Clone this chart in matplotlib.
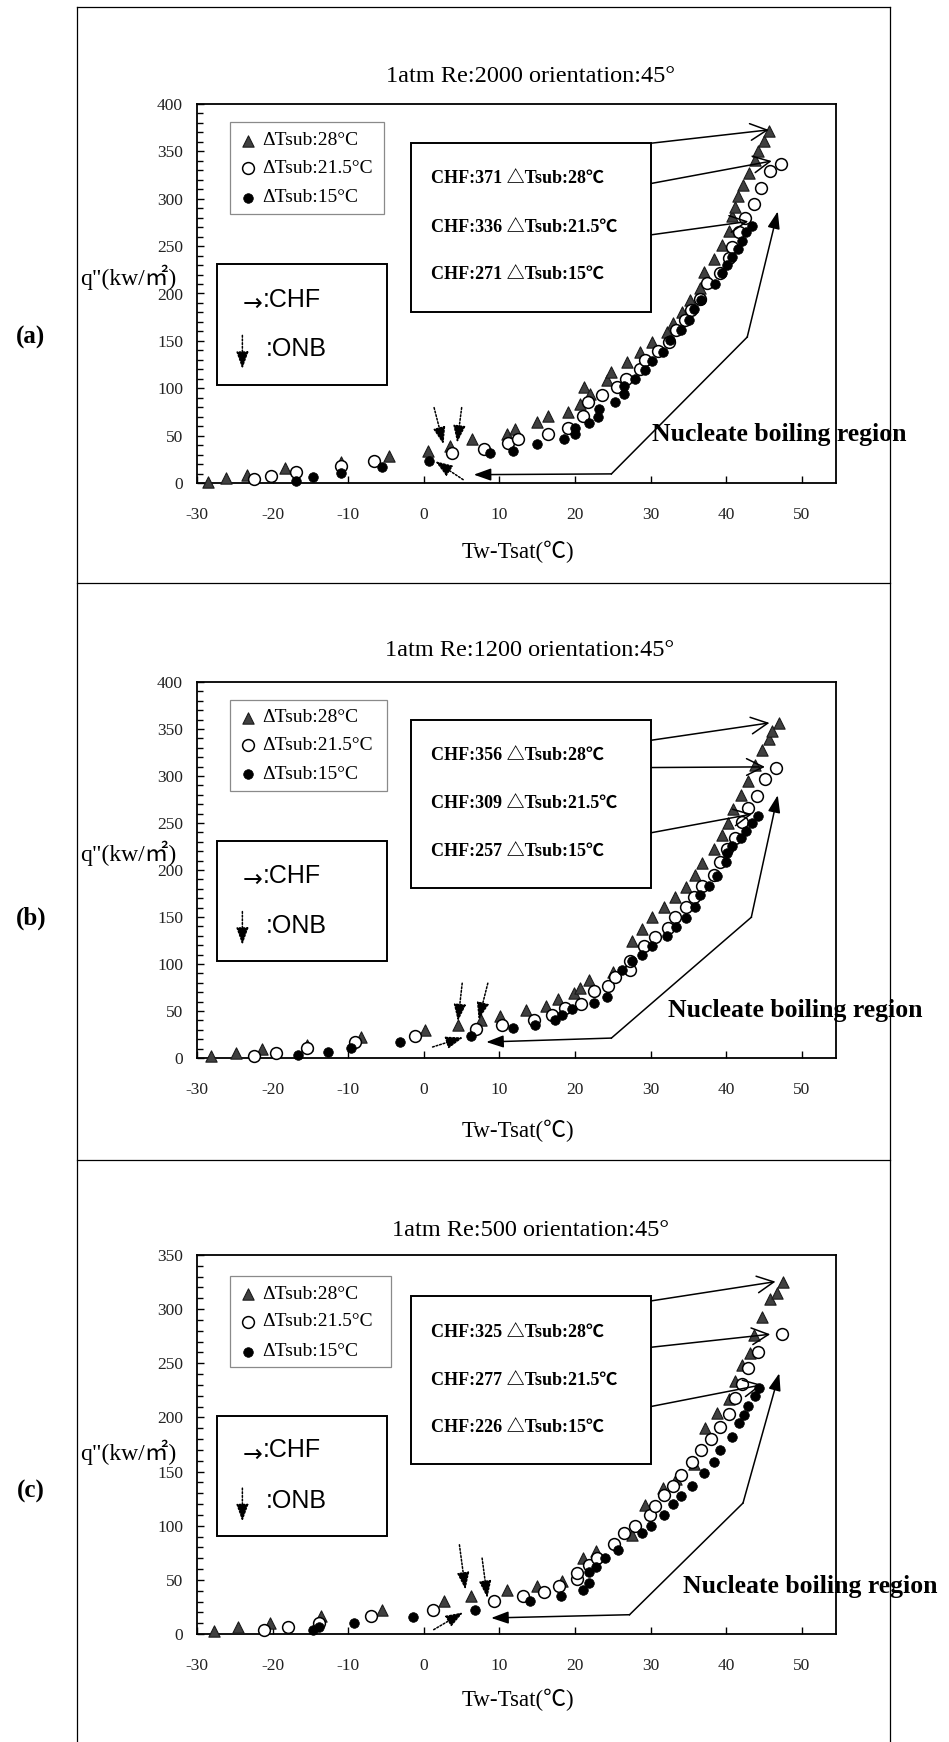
#!/usr/bin/env python3
"""Boiling curves at 1 atm, 45 deg orientation, three Re values (a)-(c).

Each panel: q'' vs Tw-Tsat for three subcooling levels, with CHF callouts,
ONB markers and the nucleate boiling region pointer.
"""

import matplotlib

matplotlib.use("Agg")
import matplotlib.pyplot as plt  # noqa: E402
from matplotlib import font_manager  # noqa: E402
from matplotlib.lines import Line2D  # noqa: E402
from matplotlib.patches import ArrowStyle, Rectangle  # noqa: E402
from matplotlib.ticker import MultipleLocator  # noqa: E402

W, H, DPI = 949, 1742, 100
plt.rcParams["axes.unicode_minus"] = False

# ---------------------------------------------------------------- data
RE_VALUES = [2000, 1200, 500]
PANEL_TAGS = ["(a)", "(b)", "(c)"]
SUBCOOLING = ["28", "21.5", "15"]
Y_MAX = [400, 400, 350]
CHF_A = [371, 336, 271]
CHF_B = [356, 309, 257]
CHF_C = [325, 277, 226]

# Re 2000
A28_X = [-28.6, -26.1, -23.4, -18.3, -11.0, -4.6, 0.5, 3.5, 6.3, 11.0, 12.0, 14.9, 16.4, 19.1,
         20.6, 21.2, 22.0, 24.2, 24.8, 26.9, 28.6, 30.2, 32.1, 33.0, 34.2, 35.2, 36.5, 37.1, 38.4,
         39.4, 40.3, 40.7, 41.2, 41.5, 42.2, 43.0, 43.8, 44.2, 45.0, 45.7]
A28_Y = [1.5, 5.3, 8.8, 15.9, 21.9, 28.3, 33.6, 38.9, 46.0, 51.3, 56.6, 64.4, 70.8, 75.0,
         83.2, 100.9, 93.5, 108.7, 117.5, 127.4, 138.1, 148.7, 159.3, 169.2, 180.5, 192.9, 205.3,
         223.0, 236.1, 251.3, 265.5, 281.4, 291.3, 302.7, 314.3, 327.4, 340.5, 350.4, 361.0, 371.0]
A21_X = [-22.5, -20.2, -16.9, -11.0, -6.6, 3.7, 7.9, 11.1, 12.4, 16.4, 19.1, 21.0, 21.7, 23.5,
         25.5, 26.7, 28.6, 29.2, 30.9, 32.4, 33.3, 34.5, 35.3, 36.5, 37.5, 39.2, 40.4, 40.7, 41.7,
         42.5, 43.6, 44.6, 45.8, 47.2]
A21_Y = [4.5, 7.5, 11.5, 17.7, 23.7, 31.9, 35.4, 42.0, 46.0, 52.0, 58.4, 70.8, 85.0, 93.1,
         101.6, 109.7, 120.4, 129.9, 139.1, 148.7, 161.1, 171.7, 182.3, 194.7, 210.6, 222.0, 237.2,
         249.6, 264.4, 279.6, 294.5, 311.5, 329.2, 337.0]
A15_X = [-16.9, -14.7, -11.0, -5.6, 0.7, 8.7, 11.8, 15.0, 18.5, 20.0, 20.0, 21.8, 23.0, 23.1,
         25.3, 26.5, 26.5, 27.9, 29.2, 30.2, 31.6, 32.6, 34.0, 35.0, 35.7, 36.7, 38.5, 39.4, 40.1,
         40.7, 41.5, 42.1, 42.6, 43.4]
A15_Y = [2.5, 6.0, 10.6, 16.6, 23.0, 31.9, 34.3, 41.4, 46.0, 52.0, 57.7, 63.7, 69.7, 77.9,
         86.0, 93.8, 102.7, 109.7, 119.3, 128.5, 138.1, 151.2, 161.8, 171.7, 184.1, 192.9, 209.6,
         222.0, 230.1, 238.9, 246.7, 255.6, 264.4, 271.0]

# Re 1200
B28_X = [-28.1, -24.9, -21.4, -15.4, -8.3, 0.1, 4.5, 7.6, 10.1, 13.5, 16.2, 17.7, 19.8, 20.6,
         21.9, 25.0, 27.5, 28.9, 30.2, 31.8, 33.2, 34.6, 35.8, 36.8, 38.4, 39.4, 40.2, 40.9, 41.9,
         42.8, 43.8, 44.7, 45.6, 46.0, 47.0]
B28_Y = [2.5, 5.3, 9.9, 13.4, 21.9, 29.5, 35.0, 40.0, 44.2, 51.3, 54.9, 62.7, 69.0, 75.0,
         83.2, 92.0, 125.0, 137.0, 149.7, 160.4, 171.0, 182.3, 194.7, 207.1, 222.3, 237.2, 249.6,
         264.8, 279.6, 294.9, 311.5, 327.4, 339.8, 347.6, 356.0]
B21_X = [-22.5, -19.5, -15.4, -9.1, -1.2, 6.9, 10.3, 14.5, 16.9, 18.7, 20.8, 22.5, 24.4, 25.3,
         27.2, 27.3, 29.1, 30.6, 32.3, 33.2, 34.6, 35.7, 36.8, 38.4, 39.2, 40.1, 41.1, 42.1, 42.9,
         44.0, 45.1, 46.5]
B21_Y = [2.5, 5.5, 10.6, 17.3, 23.0, 30.5, 35.0, 40.7, 46.0, 53.1, 57.7, 71.5, 76.8, 86.7,
         93.8, 102.7, 119.3, 129.2, 138.1, 149.7, 161.1, 171.7, 183.0, 194.7, 208.8, 221.9, 233.6,
         251.3, 266.2, 278.6, 296.3, 309.0]
B15_X = [-16.6, -12.7, -9.7, -3.2, 6.2, 11.8, 14.7, 17.3, 18.3, 19.6, 22.5, 24.2, 26.2, 27.5,
         28.9, 30.2, 32.1, 33.3, 34.6, 35.8, 36.5, 37.7, 38.7, 39.9, 40.1, 40.7, 42.0, 42.6, 43.4,
         44.2]
B15_Y = [3.5, 6.0, 10.6, 16.6, 23.0, 31.9, 35.4, 40.0, 46.0, 52.0, 58.4, 64.8, 93.8, 103.4,
         109.7, 119.3, 129.9, 139.8, 148.7, 161.1, 173.5, 183.0, 193.6, 208.8, 218.4, 225.5, 233.6,
         241.8, 250.3, 257.0]

# Re 500
C28_X = [-27.7, -24.6, -20.3, -13.6, -5.6, 2.7, 6.2, 11.0, 14.9, 18.3, 21.0, 22.8, 27.5, 29.2,
         31.6, 33.3, 35.7, 37.2, 38.8, 40.4, 41.2, 42.1, 43.1, 43.6, 44.7, 45.8, 46.7, 47.5]
C28_Y = [3.1, 6.2, 10.2, 16.3, 21.8, 30.1, 35.0, 40.9, 44.6, 48.6, 70.1, 76.3, 91.7, 119.3,
         134.7, 143.0, 157.2, 190.1, 203.9, 216.9, 233.2, 248.5, 259.3, 276.2, 292.5, 309.1, 315.3,
         325.0]
C21_X = [-21.2, -18.0, -13.9, -7.0, 1.2, 9.3, 13.1, 15.9, 17.9, 20.3, 20.3, 21.8, 22.9, 25.2,
         26.5, 27.9, 29.9, 30.6, 31.8, 32.9, 34.0, 35.5, 36.7, 38.0, 39.2, 40.4, 41.2, 42.1, 42.9,
         44.2, 47.3]
C21_Y = [3.4, 6.5, 10.5, 16.3, 22.5, 30.1, 35.4, 38.8, 44.6, 50.8, 56.3, 64.0, 70.1, 83.4,
         93.2, 100.0, 110.1, 117.8, 128.0, 136.3, 147.0, 158.4, 169.5, 179.9, 190.7, 203.3, 218.4,
         231.0, 245.5, 260.2, 277.0]
C15_X = [-14.6, -13.9, -9.3, -1.4, 6.8, 14.0, 18.1, 21.0, 21.9, 21.8, 22.8, 24.0, 25.7, 28.9,
         30.1, 31.8, 32.9, 34.0, 35.5, 37.0, 38.4, 39.2, 40.7, 41.7, 42.4, 42.9, 43.8, 44.3]
C15_Y = [4.0, 6.5, 10.5, 16.0, 22.5, 30.8, 35.4, 40.9, 47.1, 56.9, 61.5, 70.1, 77.2, 93.2,
         100.0, 110.1, 120.0, 127.7, 136.9, 148.6, 158.4, 170.1, 181.5, 194.7, 202.4, 211.0, 219.9,
         227.0]

SERIES = [
    [(A28_X, A28_Y), (A21_X, A21_Y), (A15_X, A15_Y)],
    [(B28_X, B28_Y), (B21_X, B21_Y), (B15_X, B15_Y)],
    [(C28_X, C28_Y), (C21_X, C21_Y), (C15_X, C15_Y)],
]
CHF = [CHF_A, CHF_B, CHF_C]

# ---------------------------------------------------------------- layout
AX_LEFT, AX_RIGHT = 197, 836
AX_TOPBOT = [(104, 483), (682, 1058), (1255, 1634)]
TITLE_Y = [77, 650, 1230]
XLABEL_Y = [552, 1131, 1700]
YLABEL_Y = [277, 853, 1452]
TAG_Y = [337, 918, 1491]
FRAME_X = (77, 890)
FRAME_Y = [7, 583, 1160]

# annotation geometry in data coordinates, one dict per panel
GEO = [
    dict(legend=(-25.7, 284.0, -5.3, 380.5), leg_rows=(361, 332, 301),
         key=(-27.3, 103.7, -4.9, 231.2), key_rows=(193.0, 141.6), onb_key=(155.8, 120.4),
         box=(-1.76, 180.5, 30.04, 359.3), box_rows=(320.4, 269.0, 218.8),
         chf_arrows=[((30.04, 358.6), (45.6, 372.7)), ((30.04, 316.1), (46.0, 339.8)),
                     ((30.04, 261.9), (42.9, 276.1))],
         nb_text=(30.2, 51.3), nb_corner=(42.76, 154.0), nb_top=(46.8, 286.7),
         nb_bend=(24.8, 9.6), nb_end=(6.6, 8.8),
         onb=[((1.35, 79.6), (2.6, 40.7)), ((5.0, 79.6), (4.4, 42.5)),
              ((5.2, 3.5), (1.5, 23.0))]),
    dict(legend=(-25.7, 284.2, -4.9, 381.2), leg_rows=(362.1, 332.7, 301.6),
         key=(-27.3, 103.7, -4.9, 231.2), key_rows=(193.6, 140.9), onb_key=(155.8, 120.4),
         box=(-1.76, 180.5, 30.04, 359.3), box_rows=(320.4, 270.1, 218.4),
         chf_arrows=[((30.04, 338.0), (45.7, 356.5)), ((30.04, 309.0), (45.1, 309.7)),
                     ((30.04, 239.6), (43.4, 259.5))],
         nb_text=(32.3, 50.6), nb_corner=(43.3, 149.7), nb_top=(46.8, 279.6),
         nb_bend=(24.8, 21.2), nb_end=(8.25, 17.0),
         onb=[((5.07, 79.6), (4.5, 38.9)), ((8.46, 79.6), (7.24, 40.7)),
              ((1.15, 11.7), (5.2, 21.9))]),
    dict(legend=(-25.7, 246.4, -4.4, 330.7), leg_rows=(313.7, 288.5, 260.8),
         key=(-27.3, 90.7, -4.9, 200.9), key_rows=(169.5, 122.4), onb_key=(134.7, 104.0),
         box=(-1.76, 157.2, 30.04, 312.2), box_rows=(277.8, 233.2, 190.1),
         chf_arrows=[((30.04, 307.6), (46.5, 325.4)), ((30.04, 264.8), (45.8, 276.8)),
                     ((30.04, 210.1), (44.7, 230.1))],
         nb_text=(34.3, 44.0), nb_corner=(42.2, 120.9), nb_top=(47.0, 240.8),
         nb_bend=(27.2, 17.8), nb_end=(8.9, 14.8),
         onb=[((4.7, 82.4), (5.5, 40.9)), ((7.7, 70.1), (8.4, 33.2)),
              ((1.3, 4.0), (5.2, 20.0))]),
]


def pick(*names):
    have = {f.name for f in font_manager.fontManager.ttflist}
    return [n for n in names if n in have] or ["DejaVu Sans"]


CJK = ("Noto Sans CJK JP", "Noto Sans CJK TC", "Noto Sans CJK SC", "Noto Sans CJK KR")
SERIF = pick("Liberation Serif", *CJK, "DejaVu Sans")
SANS = pick("Liberation Sans", *CJK, "DejaVu Sans")
ARROW_FONT = pick("DejaVu Sans")

MARKERS = [
    dict(marker="^", s=66, facecolor="#404040", edgecolor="#1a1a1a", linewidths=0.8),
    dict(marker="o", s=72, facecolor="white", edgecolor="black", linewidths=1.1),
    dict(marker="o", s=48, facecolor="black", edgecolor="black", linewidths=0.5),
]


def fx(x):
    return x / W


def fy(y):
    return 1 - y / H


def filled_arrow(ax, start, end, dotted=False):
    ax.annotate("", xy=end, xytext=start,
                arrowprops=dict(arrowstyle=ArrowStyle("-|>", head_length=0.7, head_width=0.25),
                                mutation_scale=15, lw=1.1, color="black",
                                linestyle=(0, (1.2, 1.2)) if dotted else "-",
                                shrinkA=0, shrinkB=0))


def draw_panel(fig, i):
    top, bottom = AX_TOPBOT[i]
    ax = fig.add_axes([fx(AX_LEFT), fy(bottom), fx(AX_RIGHT - AX_LEFT), (bottom - top) / H])
    geo = GEO[i]
    ax.set_xlim(-30, 54.5)
    ax.set_ylim(0, Y_MAX[i])
    ax.xaxis.set_major_locator(MultipleLocator(10))
    ax.yaxis.set_major_locator(MultipleLocator(50))
    ax.yaxis.set_minor_locator(MultipleLocator(10))
    ax.tick_params(axis="both", which="both", direction="in", width=1.0, colors="black")
    ax.tick_params(axis="x", which="major", length=5, pad=17)
    ax.tick_params(axis="y", which="major", length=5, pad=10)
    ax.tick_params(axis="y", which="minor", length=4)
    for lab in ax.get_xticklabels() + ax.get_yticklabels():
        lab.set_family(SERIF)
        lab.set_fontsize(12.5)
        lab.set_color("#222222")
    for sp in ax.spines.values():
        sp.set_linewidth(1.3)

    for (xs, ys), style in zip(SERIES[i], MARKERS):
        ax.scatter(xs, ys, zorder=3, clip_on=False, **style)

    # subcooling legend
    x0, y0, x1, y1 = geo["legend"]
    ax.add_patch(Rectangle((x0, y0), x1 - x0, y1 - y0, fill=False, edgecolor="#8a8a8a",
                           lw=0.9, zorder=4))
    for row_y, sub, style in zip(geo["leg_rows"], SUBCOOLING, MARKERS):
        ax.scatter([-23.2], [row_y], zorder=5, **style)
        ax.text(-21.4, row_y, f"\u0394Tsub:{sub}\u00b0C", family=SERIF, fontsize=14,
                va="center", ha="left", zorder=5)

    # CHF / ONB key
    x0, y0, x1, y1 = geo["key"]
    ax.add_patch(Rectangle((x0, y0), x1 - x0, y1 - y0, fill=False, edgecolor="black",
                           lw=1.4, zorder=4))
    ax.text(-21.3, geo["key_rows"][0] - 4, "\u2192", family=ARROW_FONT, fontsize=17,
            va="center", ha="right", zorder=5)
    ax.text(-21.3, geo["key_rows"][0], ":CHF", family=SANS, fontsize=18,
            va="center", ha="left", zorder=5)
    ax.text(-20.9, geo["key_rows"][1], ":ONB", family=SANS, fontsize=18,
            va="center", ha="left", zorder=5)
    filled_arrow(ax, (-24.0, geo["onb_key"][0]), (-24.0, geo["onb_key"][1]), dotted=True)

    # CHF values box
    x0, y0, x1, y1 = geo["box"]
    ax.add_patch(Rectangle((x0, y0), x1 - x0, y1 - y0, fill=False, edgecolor="black",
                           lw=1.4, zorder=4))
    for row_y, val, sub in zip(geo["box_rows"], CHF[i], SUBCOOLING):
        ax.text(0.95, row_y, f"CHF:{val} \u25b3Tsub:{sub}\u2103", family=SERIF,
                fontweight="bold", fontsize=13, va="center", ha="left", zorder=5)
    for start, end in geo["chf_arrows"]:
        ax.annotate("", xy=end, xytext=start,
                    arrowprops=dict(arrowstyle=ArrowStyle("->", head_length=0.6, head_width=0.3),
                                    mutation_scale=20, lw=1.1, color="black",
                                    shrinkA=0, shrinkB=0))

    # nucleate boiling pointer
    cx, cy = geo["nb_corner"]
    bx, by = geo["nb_bend"]
    ax.plot([cx, bx], [cy, by], color="black", lw=1.1)
    filled_arrow(ax, geo["nb_corner"], geo["nb_top"])
    filled_arrow(ax, geo["nb_bend"], geo["nb_end"])
    ax.text(*geo["nb_text"], "Nucleate boiling region", family=SERIF, fontweight="bold",
            fontsize=18.5, va="center", ha="left", clip_on=False, zorder=6)

    # ONB markers
    for start, end in geo["onb"]:
        filled_arrow(ax, start, end, dotted=True)

    # texts outside the axes
    fig.text(fx(530), fy(TITLE_Y[i]), f"1atm Re:{RE_VALUES[i]} orientation:45\u00b0",
             family=SERIF, fontsize=17.5, ha="center", va="center")
    fig.text(fx(518), fy(XLABEL_Y[i]), "Tw-Tsat(\u2103)", family=SERIF, fontsize=16.5,
             ha="center", va="center")
    fig.text(fx(80), fy(YLABEL_Y[i]), "q\"(kw/\u33a1)", family=SERIF, fontsize=17,
             ha="left", va="center")
    fig.text(fx(31), fy(TAG_Y[i]), PANEL_TAGS[i], family=SERIF, fontweight="bold",
             fontsize=18, ha="center", va="center")
    return ax


def draw_frame(fig):
    left, right = FRAME_X
    kw = dict(color="black", lw=0.9, transform=fig.transFigure)
    fig.add_artist(Line2D([fx(left), fx(left)], [fy(FRAME_Y[0]), 0], **kw))
    fig.add_artist(Line2D([fx(right), fx(right)], [fy(FRAME_Y[0]), 0], **kw))
    for y in FRAME_Y:
        fig.add_artist(Line2D([fx(left), fx(right)], [fy(y), fy(y)], **kw))


def main():
    fig = plt.figure(figsize=(W / DPI, H / DPI), dpi=DPI)
    fig.patch.set_facecolor("white")
    for i in range(3):
        draw_panel(fig, i)
    draw_frame(fig)
    fig.savefig("out.png", dpi=DPI)
    plt.close(fig)


if __name__ == "__main__":
    main()
